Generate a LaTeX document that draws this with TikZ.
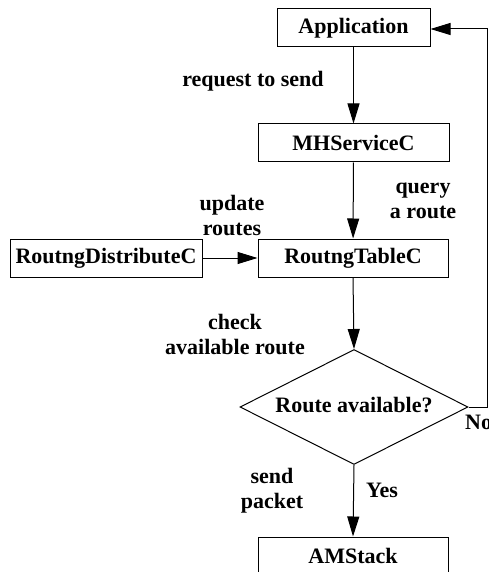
\documentclass[tikz,border=0pt]{standalone}
\usepackage{fontspec}
\setmainfont{Liberation Serif}
\usetikzlibrary{shapes.geometric,arrows.meta}
\tikzset{
  blockbox/.style={draw, line width=1pt, rectangle, minimum height=38pt, inner sep=0pt},
  decision/.style={draw, line width=1pt, diamond, minimum width=228pt, minimum height=115pt, inner sep=0pt},
  flow/.style={line width=1pt, -{Triangle[length=20pt,width=12pt]}},
  lbl/.style={align=center, inner sep=0pt}
}
\begin{document}
\begin{tikzpicture}[x=1pt, y=-1pt, font=\fontsize{22}{25}\selectfont\bfseries]
\useasboundingbox (0,0) rectangle (488,572);
\clip (0,0) rectangle (488,572);

% components
\node[blockbox, minimum width=153pt] (app) at (353.5,28) {Application};
\node[blockbox, minimum width=191pt] (mh) at (353.5,143) {MHServiceC};
\node[blockbox, minimum width=190pt] (rt) at (353,258) {RoutngTableC};
\node[blockbox, minimum width=192pt] (rd) at (106,258) {RoutngDistributeC};
\node[decision] (dec) at (354,407) {};
\node[lbl] (dectext) at (354,405) {Route available?};
\node[blockbox, minimum width=190pt] (am) at (353,556) {AMStack};

% feedback path corners
\coordinate (nr) at (487,407);
\coordinate (nt) at (487,29);

% connectors
\draw[flow] (app.south -| 353.5,0) -- (mh.north);
\draw[flow] (mh) -- (rt);
\draw[flow] (rd) -- (rt);
\draw[flow] (rt.south) -- (dec.north);
\draw[flow] (dec.south) -- (am.north);
\draw[flow] (dec.east) -- (nr) -- (nt) -- (nt -| app.east);

% edge labels
\node[lbl] (l1) at (253,81) {request to send};
\node[lbl] (l2) at (423,200.5) {query\\a route};
\node[lbl] (l3) at (232,215.5) {update\\routes};
\node[lbl] (l4) at (235,334) {check\\available route};
\node[lbl] (l5) at (272,490.5) {send\\packet};
\node[lbl] (l6) at (382,490) {Yes};
\node[lbl, anchor=west] (l7) at (465,422) {No};
\end{tikzpicture}
\end{document}
